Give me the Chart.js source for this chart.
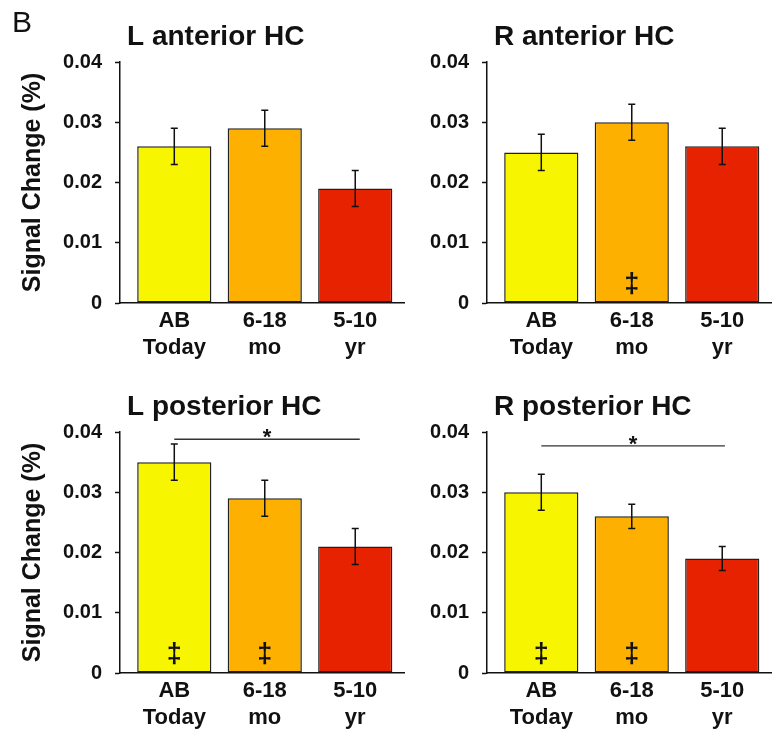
<!DOCTYPE html>
<html>
<head>
<meta charset="utf-8">
<script src="https://cdn.jsdelivr.net/npm/chart.js@4.4.1/dist/chart.umd.min.js"></script>
<style>
    body { margin: 0; background: #fff; width: 776px; height: 732px; position: relative; overflow: hidden; }
    canvas { position: absolute; }
</style>
</head>
<body>
<canvas id="chartLA" width="405" height="362" style="left:0;top:0"></canvas>
<canvas id="chartRA" width="382" height="362" style="left:390px;top:0"></canvas>
<canvas id="chartLP" width="405" height="362" style="left:0;top:370px"></canvas>
<canvas id="chartRP" width="382" height="362" style="left:390px;top:370px"></canvas>
<script>
    const categories = [['AB', 'Today'], ['6-18', 'mo'], ['5-10', 'yr']];
    const barColors = ['#f8f500', '#fdb000', '#e62200'];
    const yTicks = [0, 0.01, 0.02, 0.03, 0.04];
    const yTickLabels = ['0', '0.01', '0.02', '0.03', '0.04'];

    const lAntValues = [0.026, 0.029, 0.019];
    const lAntErrors = [0.003, 0.003, 0.003];
    const rAntValues = [0.025, 0.030, 0.026];
    const rAntErrors = [0.003, 0.003, 0.003];
    const lPostValues = [0.035, 0.029, 0.021];
    const lPostErrors = [0.003, 0.003, 0.003];
    const rPostValues = [0.030, 0.026, 0.019];
    const rPostErrors = [0.003, 0.002, 0.002];

    // double dagger marks inside the bars
    const lAntMarks = [false, false, false];
    const rAntMarks = [false, true, false];
    const lPostMarks = [true, true, false];
    const rPostMarks = [true, true, false];

    // * comparison: [from bar, to bar, level]
    const lPostSig = [0, 2.05, 0.0388];
    const rPostSig = [0, 2.03, 0.0377];

    const FONT = "'Liberation Sans', Arial, Helvetica, sans-serif";
    const INK = '#111';

    const panels = [
        { id: 'chartLA', title: 'L anterior HC', values: lAntValues, errors: lAntErrors, marks: lAntMarks, sig: null, yWidth: 120, yTitle: true, letter: true },
        { id: 'chartRA', title: 'R anterior HC', values: rAntValues, errors: rAntErrors, marks: rAntMarks, sig: null, yWidth: 97, yTitle: false },
        { id: 'chartLP', title: 'L posterior HC', values: lPostValues, errors: lPostErrors, marks: lPostMarks, sig: lPostSig, yWidth: 120, yTitle: true },
        { id: 'chartRP', title: 'R posterior HC', values: rPostValues, errors: rPostErrors, marks: rPostMarks, sig: rPostSig, yWidth: 97, yTitle: false }
    ];

    // error bars, marks, star line and titles
    function annotate(panel) {
        return {
            id: 'annotate',
            afterDatasetsDraw(chart) {
                const ctx = chart.ctx;
                const x = chart.scales.x;
                const y = chart.scales.y;
                ctx.save();

                ctx.strokeStyle = INK;
                ctx.lineWidth = 1.5;
                panel.values.forEach(function(v, i) {
                    const px = x.getPixelForValue(i);
                    const top = y.getPixelForValue(v + panel.errors[i]);
                    const bot = y.getPixelForValue(v - panel.errors[i]);
                    ctx.beginPath();
                    ctx.moveTo(px, top); ctx.lineTo(px, bot);
                    ctx.moveTo(px - 3.5, top); ctx.lineTo(px + 3.5, top);
                    ctx.moveTo(px - 3.5, bot); ctx.lineTo(px + 3.5, bot);
                    ctx.stroke();
                });

                ctx.fillStyle = INK;
                ctx.font = 'bold 27px ' + FONT;
                ctx.textAlign = 'center';
                ctx.textBaseline = 'middle';
                panel.marks.forEach(function(m, i) {
                    if (m) ctx.fillText('‡', x.getPixelForValue(i), y.getPixelForValue(0.003));
                });

                if (panel.sig) {
                    const x1 = x.getPixelForValue(panel.sig[0]);
                    const x2 = x.getPixelForValue(panel.sig[1]);
                    const ly = y.getPixelForValue(panel.sig[2]);
                    ctx.lineWidth = 1.3;
                    ctx.strokeStyle = '#333';
                    ctx.beginPath();
                    ctx.moveTo(x1, ly); ctx.lineTo(x2, ly);
                    ctx.stroke();
                    ctx.font = 'bold 22px ' + FONT;
                    ctx.fillText('*', (x1 + x2) / 2, ly - 1);
                }

                ctx.font = 'bold 28px ' + FONT;
                ctx.textAlign = 'left';
                ctx.textBaseline = 'alphabetic';
                ctx.fillText(panel.title, chart.chartArea.left + 7, 45);

                if (panel.letter) {
                    ctx.font = '30px ' + FONT;
                    ctx.fillText('B', 12, 32);
                }
                ctx.restore();
            }
        };
    }

    function makeChart(panel) {
        new Chart(document.getElementById(panel.id), {
            type: 'bar',
            data: {
                datasets: [{
                    data: panel.values.map((v, i) => ({ x: i, y: v })),
                    backgroundColor: barColors,
                    borderColor: '#222',
                    borderWidth: 1.5,
                    borderSkipped: false,
                    categoryPercentage: 1,
                    barPercentage: 0.82
                }]
            },
            options: {
                responsive: false,
                animation: false,
                devicePixelRatio: 1,
                layout: { padding: { top: 62, right: 0, bottom: 0, left: 0 } },
                plugins: { legend: { display: false }, tooltip: { enabled: false } },
                scales: {
                    x: {
                        type: 'linear',
                        offset: false,
                        min: -0.6,
                        max: 2.55,
                        grid: { display: false, drawTicks: false, offset: false },
                        border: { color: INK, width: 1.5 },
                        afterBuildTicks: s => { s.ticks = categories.map((c, i) => ({ value: i })); },
                        afterFit: s => { s.height = 59; },
                        ticks: {
                            autoSkip: false,
                            maxRotation: 0,
                            padding: 4,
                            color: INK,
                            font: { family: FONT, size: 22, weight: 'bold', lineHeight: 1.25 },
                            callback: v => categories[v]
                        }
                    },
                    y: {
                        min: 0,
                        max: 0.04,
                        grid: { drawOnChartArea: false, tickLength: 5, tickColor: INK, tickWidth: 1.5 },
                        border: { color: INK, width: 1.5 },
                        afterBuildTicks: s => { s.ticks = yTicks.map(v => ({ value: v })); },
                        afterFit: s => { s.width = panel.yWidth; },
                        ticks: {
                            padding: 13,
                            color: INK,
                            font: { family: FONT, size: 20, weight: 'bold' },
                            callback: (v, i) => yTickLabels[i]
                        },
                        title: {
                            display: panel.yTitle,
                            text: 'Signal Change (%)',
                            color: INK,
                            font: { family: FONT, size: 25, weight: 'bold' },
                            padding: { top: 18, bottom: 0 }
                        }
                    }
                }
            },
            plugins: [annotate(panel)]
        });
    }

    panels.forEach(makeChart);
</script>
</body>
</html>
